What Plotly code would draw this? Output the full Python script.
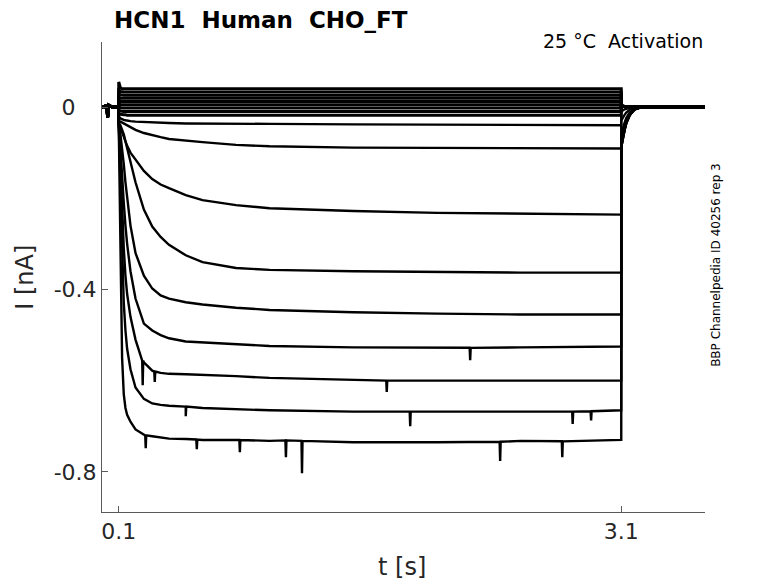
import plotly.graph_objects as go

# ---------------- data ----------------
# holding period before the step (shared by all sweeps)
t_pre = [0.0, 0.02, 0.03, 0.034, 0.04, 0.06, 0.0999]
i_pre = [0.0, 0.002, -0.006, -0.022, 0.004, 0.0, 0.0]

# step period
t_step = [0.1, 0.11, 0.12, 0.13, 0.14, 0.15, 0.17, 0.2, 0.25, 0.3,
          0.35, 0.4, 0.5, 0.6, 0.8, 1.0, 1.5, 2.0, 2.5, 3.1]

# tail period after the step
t_tail = [3.1, 3.11, 3.12, 3.13, 3.15, 3.18, 3.22, 3.4, 3.6]

# sweeps with little or outward current (dense band near 0)
b1 = [0.055, 0.042, 0.040, 0.040, 0.040, 0.040, 0.040, 0.040, 0.040, 0.040,
      0.040, 0.040, 0.040, 0.040, 0.040, 0.040, 0.040, 0.040, 0.040, 0.040]
b2 = [0.036, 0.034, 0.033, 0.033, 0.033, 0.033, 0.033, 0.033, 0.033, 0.033,
      0.033, 0.033, 0.033, 0.033, 0.033, 0.033, 0.033, 0.033, 0.033, 0.033]
b3 = [0.028, 0.027, 0.026, 0.026, 0.026, 0.026, 0.026, 0.026, 0.026, 0.026,
      0.026, 0.026, 0.026, 0.026, 0.026, 0.026, 0.026, 0.026, 0.026, 0.026]
b4 = [0.020, 0.019, 0.019, 0.019, 0.019, 0.019, 0.019, 0.019, 0.019, 0.019,
      0.019, 0.019, 0.019, 0.019, 0.019, 0.019, 0.019, 0.019, 0.019, 0.019]
b5 = [0.013, 0.012, 0.012, 0.012, 0.012, 0.012, 0.012, 0.012, 0.012, 0.012,
      0.012, 0.012, 0.012, 0.012, 0.012, 0.012, 0.012, 0.012, 0.012, 0.012]
b6 = [0.006, 0.005, 0.005, 0.005, 0.005, 0.005, 0.005, 0.005, 0.005, 0.005,
      0.005, 0.005, 0.005, 0.005, 0.005, 0.005, 0.005, 0.005, 0.005, 0.005]
b7 = [-0.001, -0.002, -0.002, -0.002, -0.002, -0.002, -0.002, -0.002, -0.002, -0.002,
      -0.002, -0.002, -0.002, -0.002, -0.002, -0.002, -0.002, -0.002, -0.002, -0.002]
b8 = [-0.008, -0.009, -0.010, -0.010, -0.010, -0.010, -0.010, -0.010, -0.010, -0.010,
      -0.010, -0.010, -0.010, -0.010, -0.010, -0.010, -0.010, -0.010, -0.010, -0.010]
b9 = [-0.014, -0.016, -0.017, -0.017, -0.017, -0.018, -0.018, -0.018, -0.018, -0.018,
      -0.018, -0.018, -0.018, -0.018, -0.018, -0.018, -0.018, -0.018, -0.018, -0.018]

# sweeps with inward (activating) current
s09 = [-0.020, -0.025, -0.027, -0.028, -0.029, -0.030, -0.031, -0.032, -0.033, -0.034,
       -0.035, -0.035, -0.036, -0.036, -0.037, -0.037, -0.038, -0.039, -0.039, -0.040]
s10 = [-0.030, -0.032, -0.034, -0.036, -0.038, -0.040, -0.044, -0.050, -0.057, -0.062,
       -0.066, -0.070, -0.074, -0.077, -0.083, -0.086, -0.089, -0.090, -0.090, -0.091]
s11 = [-0.035, -0.045, -0.055, -0.065, -0.075, -0.085, -0.100, -0.115, -0.140, -0.158,
       -0.170, -0.178, -0.193, -0.204, -0.215, -0.222, -0.228, -0.232, -0.234, -0.236]
s12 = [-0.035, -0.040, -0.048, -0.060, -0.075, -0.090, -0.120, -0.165, -0.225, -0.262,
       -0.285, -0.302, -0.325, -0.340, -0.353, -0.357, -0.360, -0.362, -0.363, -0.363]
s13 = [-0.040, -0.060, -0.090, -0.125, -0.165, -0.200, -0.260, -0.320, -0.370, -0.398,
       -0.413, -0.420, -0.428, -0.433, -0.440, -0.445, -0.450, -0.453, -0.455, -0.455]
s14 = [-0.040, -0.090, -0.160, -0.210, -0.260, -0.300, -0.360, -0.420, -0.475, -0.490,
       -0.500, -0.507, -0.514, -0.516, -0.520, -0.524, -0.527, -0.528, -0.527, -0.525]
s15 = [-0.040, -0.120, -0.220, -0.310, -0.370, -0.410, -0.460, -0.510, -0.560, -0.578,
       -0.583, -0.585, -0.586, -0.587, -0.590, -0.594, -0.598, -0.600, -0.600, -0.600]
s16 = [-0.040, -0.170, -0.330, -0.430, -0.490, -0.530, -0.575, -0.615, -0.640, -0.650,
       -0.653, -0.655, -0.657, -0.660, -0.662, -0.665, -0.668, -0.668, -0.668, -0.665]
s17 = [-0.040, -0.300, -0.550, -0.630, -0.660, -0.675, -0.690, -0.707, -0.717, -0.722,
       -0.725, -0.727, -0.728, -0.730, -0.730, -0.732, -0.735, -0.735, -0.732, -0.730]

# tail currents after return to holding
tail_band = [0.003, 0.002, 0.001, 0.0, 0.0, 0.0, 0.0, 0.0, 0.0]
tail09 = [-0.010, -0.007, -0.005, -0.004, -0.002, -0.001, 0.0, 0.0, 0.0]
tail10 = [-0.030, -0.022, -0.017, -0.012, -0.006, -0.002, 0.0, 0.0, 0.0]
tail11 = [-0.060, -0.044, -0.034, -0.024, -0.012, -0.004, 0.0, 0.0, 0.0]
tail12 = [-0.075, -0.055, -0.043, -0.030, -0.015, -0.005, 0.0, 0.0, 0.0]
tail13 = [-0.083, -0.061, -0.047, -0.033, -0.017, -0.005, 0.0, 0.0, 0.0]
tail_max = [-0.088, -0.065, -0.050, -0.035, -0.018, -0.005, 0.0, 0.0, 0.0]

# brief downward noise spikes: (time, baseline, peak)
spikes17 = [(0.261, -0.720, -0.748), (0.566, -0.729, -0.750), (0.823, -0.730, -0.757),
            (1.098, -0.731, -0.768), (1.194, -0.732, -0.803), (2.377, -0.734, -0.776),
            (2.748, -0.733, -0.768)]
spikes16 = [(0.5, -0.657, -0.678), (1.84, -0.668, -0.700), (2.81, -0.668, -0.695),
            (2.92, -0.667, -0.687)]
spikes15 = [(0.243, -0.556, -0.610), (0.315, -0.580, -0.603), (1.7, -0.600, -0.625)]
spikes14 = [(2.198, -0.528, -0.555)]

sweeps = [
    (b1, tail_band, []), (b2, tail_band, []), (b3, tail_band, []),
    (b4, tail_band, []), (b5, tail_band, []), (b6, tail_band, []),
    (b7, tail_band, []), (b8, tail_band, []), (b9, tail_band, []),
    (s09, tail09, []), (s10, tail10, []), (s11, tail11, []),
    (s12, tail12, []), (s13, tail13, []), (s14, tail_max, spikes14),
    (s15, tail_max, spikes15), (s16, tail_max, spikes16), (s17, tail_max, spikes17),
]

# ---------------- figure ----------------
fig = go.Figure()
for k, (step_vals, tail_vals, spk) in enumerate(sweeps):
    pts = list(zip(t_step, step_vals))
    for (ts, base, peak) in spk:
        pts += [(ts - 0.003, base), (ts, peak), (ts + 0.003, base)]
    pts.sort(key=lambda p: p[0])
    xs = list(t_pre) + [p[0] for p in pts] + list(t_tail)
    ys = list(i_pre) + [p[1] for p in pts] + list(tail_vals)
    w = 3.0 if k < 9 else 2.4
    fig.add_trace(go.Scatter(x=xs, y=ys, mode="lines",
                             line=dict(color="black", width=w),
                             hoverinfo="skip"))

axis_col = "#5a5a5a"
tick_col = "#262626"
fig.update_layout(
    width=778, height=583,
    margin=dict(l=94, r=81, t=34, b=79),
    paper_bgcolor="white", plot_bgcolor="white",
    showlegend=False,
    font=dict(family="DejaVu Sans", color=tick_col),
    xaxis=dict(range=[0, 3.6], tickvals=[0.1, 3.1], ticktext=["0.1", "3.1"],
               ticks="inside", ticklen=6, tickcolor=axis_col, tickwidth=1,
               showline=True, linecolor=axis_col, linewidth=1,
               showgrid=False, zeroline=False,
               tickfont=dict(size=22, color=tick_col, family="DejaVu Sans")),
    yaxis=dict(range=[-0.888, 0.1426], tickvals=[-0.8, -0.4, 0],
               ticktext=["-0.8", "-0.4", "0\u2007\u2008"],
               ticks="inside", ticklen=6, tickcolor=axis_col, tickwidth=1,
               showline=True, linecolor=axis_col, linewidth=1,
               showgrid=False, zeroline=False,
               tickfont=dict(size=22, color=tick_col, family="DejaVu Sans")),
)

fig.add_annotation(text="<b>HCN1\u00a0\u00a0Human\u00a0\u00a0CHO_FT</b>",
                   xref="paper", yref="paper", x=0.018, y=1.047,
                   xanchor="left", yanchor="middle", showarrow=False,
                   borderpad=0,
                   font=dict(size=23, color="black", family="DejaVu Sans"))
fig.add_annotation(text="25 °C\u00a0\u00a0Activation",
                   xref="paper", yref="paper", x=1.0, y=1.002,
                   xanchor="right", yanchor="middle", showarrow=False,
                   font=dict(size=19, color="black", family="DejaVu Sans"))
fig.add_annotation(text="BBP Channelpedia ID 40256 rep 3",
                   xref="paper", yref="paper", x=1.018, y=0.5255,
                   xanchor="center", yanchor="middle", showarrow=False,
                   textangle=-90,
                   font=dict(size=12, color="black", family="DejaVu Sans"))
fig.add_annotation(text="I [nA]",
                   xref="paper", yref="paper", x=-0.128, y=0.5,
                   xanchor="center", yanchor="middle", showarrow=False,
                   textangle=-90,
                   font=dict(size=24, color=tick_col, family="DejaVu Sans"))
fig.add_annotation(text="t [s]",
                   xref="paper", yref="paper", x=0.498, y=-0.117,
                   xanchor="center", yanchor="middle", showarrow=False,
                   font=dict(size=24, color=tick_col, family="DejaVu Sans"))

fig.write_html("out.html")
